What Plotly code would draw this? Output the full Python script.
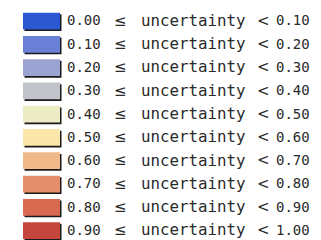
import plotly.graph_objects as go

lower = ["0.00", "0.10", "0.20", "0.30", "0.40", "0.50", "0.60", "0.70", "0.80", "0.90"]
upper = ["0.10", "0.20", "0.30", "0.40", "0.50", "0.60", "0.70", "0.80", "0.90", "1.00"]
colors = ["#2b58d0", "#6a7fd6", "#9aa3d2", "#c0c3c8", "#ececc4",
          "#fae6a8", "#f0b98a", "#e48e6c", "#d86a52", "#c5463c"]
label_word = "uncertainty"

rows = list(range(len(lower)))
n = len(rows)

fig = go.Figure()

# shadow behind swatch
fig.add_trace(go.Bar(
    orientation="h", y=rows, x=[37] * n, base=[16.5] * n,
    width=0.72, offset=-0.33, marker=dict(color="#1a1a1a", line=dict(width=0)),
    hoverinfo="skip", showlegend=False))
# swatches
fig.add_trace(go.Bar(
    orientation="h", y=rows, x=[37] * n, base=[15] * n,
    width=0.72, offset=-0.40, marker=dict(color=colors, line=dict(width=0)),
    hoverinfo="skip", showlegend=False))

font_num = dict(family="DejaVu Sans Mono", size=14, color="#2a2a2a")
font_sym = dict(family="DejaVu Sans", size=15, color="#2a2a2a")
font_word = dict(family="DejaVu Sans Mono", size=15.8, color="#2a2a2a")

def text_trace(xpos, labels, font):
    return go.Scatter(x=[xpos] * n, y=rows, mode="text", text=labels,
                      textposition="middle right", textfont=font,
                      cliponaxis=False, hoverinfo="skip", showlegend=False)

fig.add_trace(text_trace(59, lower, font_num))
fig.add_trace(text_trace(106, ["≤"] * n, font_sym))
fig.add_trace(text_trace(133, [label_word] * n, font_word))
fig.add_trace(text_trace(249, ["<"] * n, font_sym))
fig.add_trace(text_trace(268, upper, font_num))

fig.update_layout(
    width=321, height=240,
    margin=dict(l=0, r=0, t=0, b=0),
    paper_bgcolor="white", plot_bgcolor="white",
    barmode="overlay",
    xaxis=dict(range=[0, 321], visible=False, fixedrange=True),
    yaxis=dict(range=[9.709, -0.601], visible=False, fixedrange=True),
)

fig.write_html("out.html")
